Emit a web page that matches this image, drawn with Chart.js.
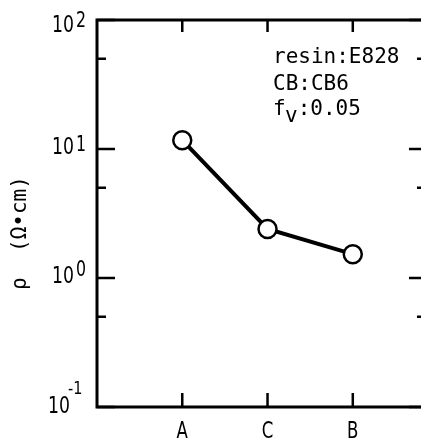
<!DOCTYPE html>
<html>
<head>
<meta charset="utf-8">
<script src="https://cdn.jsdelivr.net/npm/chart.js@4.4.0/dist/chart.umd.min.js"></script>
<style>
  html, body { margin: 0; padding: 0; background: #fff; }
  canvas { display: block; }
</style>
</head>
<body>
<canvas id="chart" width="421" height="440" style="width:421px;height:440px"></canvas>
<script>
// data
const categories = ['A', 'C', 'B'];
const categoryX = [1, 2, 3];
const rhoValues = [11.7, 2.4, 1.53];

const yMajorTicks = [0.1, 1, 10, 100];
const yTickExponents = ['-1', '0', '1', '2'];
const yMinorTicks = [0.5, 5, 50];

const noteLines = ['resin:E828', 'CB:CB6'];
const noteFv = { base: 'f', sub: 'v', rest: ':0.05' };
const yTitle = 'ρ  (Ω•cm)';

// the right-hand axis sits just past the cropped edge of the picture
const xMax = 3.80;
const rightAxisX = 3.87;

const labelFont = '23px "DejaVu Sans", sans-serif';
const expFont = '21px "DejaVu Sans", sans-serif';
const monoFont = '21px "DejaVu Sans Mono", monospace';

// hand-set nudges for the 10^n labels (baseline below tick, exponent lift)
const baseDrop = [6, 5, 5, 12];
const expLift = [19, 7, 3, 5];

// squeezed text, the original uses a condensed face
function narrowText(ctx, text, x, y, sx, align) {
  ctx.save();
  ctx.translate(x, y);
  ctx.scale(sx, 1);
  ctx.textAlign = align;
  ctx.fillText(text, 0, 0);
  const w = ctx.measureText(text).width * sx;
  ctx.restore();
  return w;
}

const framePlugin = {
  id: 'frame',
  afterDraw(chart) {
    const ctx = chart.ctx;
    const a = chart.chartArea;
    const xs = chart.scales.x, ys = chart.scales.y;
    const right = xs.getPixelForValue(rightAxisX);
    ctx.save();
    ctx.strokeStyle = '#000';
    ctx.fillStyle = '#000';

    // frame
    ctx.lineWidth = 3;
    ctx.lineCap = 'square';
    ctx.beginPath();
    ctx.moveTo(a.left, a.bottom); ctx.lineTo(a.left, a.top); ctx.lineTo(right, a.top);
    ctx.moveTo(a.left, a.bottom); ctx.lineTo(right, a.bottom); ctx.lineTo(right, a.top);
    ctx.stroke();

    // y ticks (inward, both sides)
    ctx.lineWidth = 2.5;
    ctx.lineCap = 'butt';
    ctx.beginPath();
    yMajorTicks.forEach(v => {
      const y = ys.getPixelForValue(v);
      ctx.moveTo(a.left, y); ctx.lineTo(a.left + 18, y);
      ctx.moveTo(right, y); ctx.lineTo(right - 18, y);
    });
    yMinorTicks.forEach(v => {
      const y = ys.getPixelForValue(v);
      ctx.moveTo(a.left, y); ctx.lineTo(a.left + 9, y);
      ctx.moveTo(right, y); ctx.lineTo(right - 10, y);
    });
    // x ticks (inward, top and bottom)
    categoryX.forEach(v => {
      const x = xs.getPixelForValue(v);
      ctx.moveTo(x, a.top); ctx.lineTo(x, a.top + 12);
      ctx.moveTo(x, a.bottom); ctx.lineTo(x, a.bottom - 14);
    });
    ctx.stroke();

    // y tick labels 10^n
    ctx.textBaseline = 'alphabetic';
    yMajorTicks.forEach((v, i) => {
      const y = ys.getPixelForValue(v);
      const neg = yTickExponents[i] === '-1';
      const x0 = neg ? 48 : 52;
      const yb = y + baseDrop[i];
      ctx.font = labelFont;
      const w = narrowText(ctx, '10', x0, yb, 0.75, 'left');
      ctx.font = neg ? '18px "DejaVu Sans", sans-serif' : expFont;
      narrowText(ctx, yTickExponents[i], x0 + w + (neg ? -2 : 2), yb - expLift[i], neg ? 0.8 : 0.75, 'left');
    });

    // x category labels
    ctx.font = labelFont;
    categories.forEach((c, i) => {
      narrowText(ctx, c, xs.getPixelForValue(categoryX[i]), 438, 0.72, 'center');
    });

    // y title, rotated
    ctx.save();
    ctx.translate(21, 233);
    ctx.rotate(-Math.PI / 2);
    ctx.font = '21px "DejaVu Sans Mono", monospace';
    ctx.textAlign = 'center';
    ctx.textBaseline = 'middle';
    ctx.fillText(yTitle, 0, 0);
    ctx.restore();

    // note text
    ctx.font = monoFont;
    ctx.textAlign = 'left';
    ctx.textBaseline = 'alphabetic';
    ctx.fillText(noteLines[0], 273, 63);
    ctx.fillText(noteLines[1], 273, 90);
    const cw = ctx.measureText('0').width;
    ctx.fillText(noteFv.base, 273, 115);
    ctx.fillText(noteFv.sub, 273 + cw * 0.95, 122);
    ctx.fillText(noteFv.rest, 273 + cw * 1.95, 115);

    ctx.restore();
  }
};

new Chart(document.getElementById('chart'), {
  type: 'line',
  data: {
    datasets: [{
      data: categoryX.map((x, i) => ({ x: x, y: rhoValues[i] })),
      borderColor: '#000',
      borderWidth: 4,
      tension: 0,
      pointRadius: 9,
      pointBorderWidth: 2.5,
      pointBackgroundColor: '#fff',
      pointBorderColor: '#000'
    }]
  },
  options: {
    responsive: false,
    animation: false,
    layout: { autoPadding: false, padding: { left: 97, top: 20, right: 0, bottom: 33 } },
    plugins: { legend: { display: false }, tooltip: { enabled: false } },
    scales: {
      x: { type: 'linear', min: 0, max: xMax, display: false },
      y: { type: 'logarithmic', min: 0.1, max: 100, display: false }
    }
  },
  plugins: [framePlugin]
});
</script>
</body>
</html>
